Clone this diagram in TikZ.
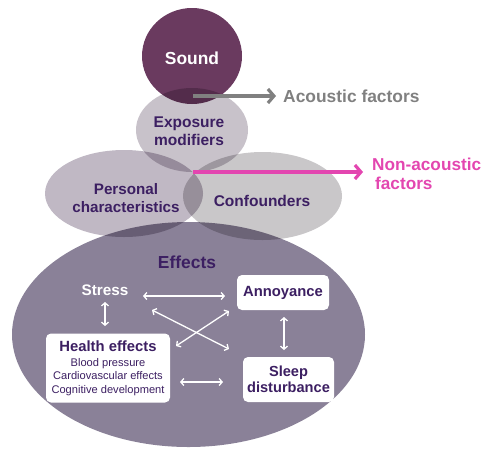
\documentclass[tikz,border=0pt]{standalone}
\usepackage{fontspec}
\setmainfont{Liberation Sans}
\usetikzlibrary{arrows.meta}
\definecolor{soundc}{HTML}{6A3A5F}
\definecolor{expoc}{HTML}{C8C2CA}
\definecolor{persc}{HTML}{C0B8C4}
\definecolor{confc}{HTML}{C9C7C9}
\definecolor{effc}{HTML}{8A8198}
\definecolor{txtpurple}{HTML}{3C1F62}
\definecolor{pinkc}{HTML}{E346B0}
\definecolor{grayc}{HTML}{808080}
\tikzset{
  bigtext/.style={font=\bfseries\fontsize{15.5}{18}\selectfont, text=txtpurple, align=center, inner sep=0pt},
  boxnode/.style={fill=white, rounded corners=5pt, align=center, text=txtpurple, inner sep=0pt},
  effarrow/.style={white, line width=1.3pt, {Straight Barb[length=3pt,width=7pt]}-{Straight Barb[length=3pt,width=7pt]}},
  factarrow/.style={line width=3.2pt, -{Straight Barb[length=6pt,width=14pt]}},
}
\begin{document}
\begin{tikzpicture}[x=1pt,y=-1pt]
\useasboundingbox (0,0) rectangle (481,448);
\begin{scope}[blend group=multiply]
  \fill[effc]   (188.5,334.5) ellipse [x radius=176.5, y radius=112.5];
  \fill[persc]  (124,193.5) ellipse [x radius=79, y radius=43.5];
  \fill[confc]  (262.5,196) ellipse [x radius=79.5, y radius=44];
  \fill[expoc]  (192,130) ellipse [x radius=56, y radius=42];
  \fill[soundc] (192,56) ellipse [x radius=50, y radius=48];
\end{scope}

% upper labels
\node[font=\bfseries\fontsize{17.4}{20}\selectfont, text=white, inner sep=0pt] (sound) at (192,58) {Sound};
\node[bigtext] (expo) at (189,131) {Exposure\\modifiers};
\node[bigtext, font=\bfseries\fontsize{15.2}{18}\selectfont] (pers) at (126,198) {Personal\\characteristics};
\node[bigtext] (conf) at (262,201) {Confounders};
\node[font=\bfseries\fontsize{17.4}{20}\selectfont, text=grayc, inner sep=0pt, anchor=west] (acoustic) at (283,96) {Acoustic factors};
\node[font=\bfseries\fontsize{17.2}{19.5}\selectfont, text=pinkc, inner sep=0pt, anchor=west, align=left] (nonac) at (372,174) {Non-acoustic\\\hspace*{3pt}factors};

\coordinate (acst) at (193,96);
\coordinate (nonst) at (193,172);
\draw[factarrow, grayc] (acst) -- ([xshift=-7pt]acoustic.west);
\draw[factarrow, pinkc] (nonst) -- ([xshift=-9pt]nonst -| nonac.west);

% effects
\node[font=\bfseries\fontsize{17.4}{20}\selectfont, text=txtpurple, inner sep=0pt] (effects) at (187,262) {Effects};
\node[font=\bfseries\fontsize{15.3}{18}\selectfont, text=white, inner sep=0pt] (stress) at (105,290) {Stress};
\node[boxnode, minimum width=92pt, minimum height=35pt, font=\bfseries\fontsize{14.8}{17}\selectfont] (annoy) at (283,292.5) {Annoyance};
\node[boxnode, minimum width=124pt, minimum height=69pt, font=\fontsize{11.1}{13.6}\selectfont] (health) at (108,368) {{\bfseries\fontsize{14.8}{15}\selectfont Health effects}\\[1.5pt]Blood pressure\\Cardiovascular effects\\Cognitive development};
\node[boxnode, minimum width=91pt, minimum height=45pt, font=\bfseries\fontsize{14.6}{16.5}\selectfont] (sleep) at (288.5,379.5) {Sleep\\disturbance};

\coordinate (sa1) at (143,296);
\coordinate (sa2) at (225,296);
\coordinate (sh1) at (105,302);
\coordinate (sh2) at (105,326);
\coordinate (as1) at (284,317);
\coordinate (as2) at (284,350);
\coordinate (ss1) at (152,310);
\coordinate (ss2) at (229,349);
\coordinate (ah1) at (229,311);
\coordinate (ah2) at (176,346);
\coordinate (hs1) at (180,382);
\coordinate (hs2) at (223,382);
\draw[effarrow] (sa1) -- (sa2);
\draw[effarrow] (sh1) -- (sh2);
\draw[effarrow] (as1) -- (as2);
\draw[effarrow] (ss1) -- (ss2);
\draw[effarrow] (ah1) -- (ah2);
\draw[effarrow] (hs1) -- (hs2);
\end{tikzpicture}
\end{document}
